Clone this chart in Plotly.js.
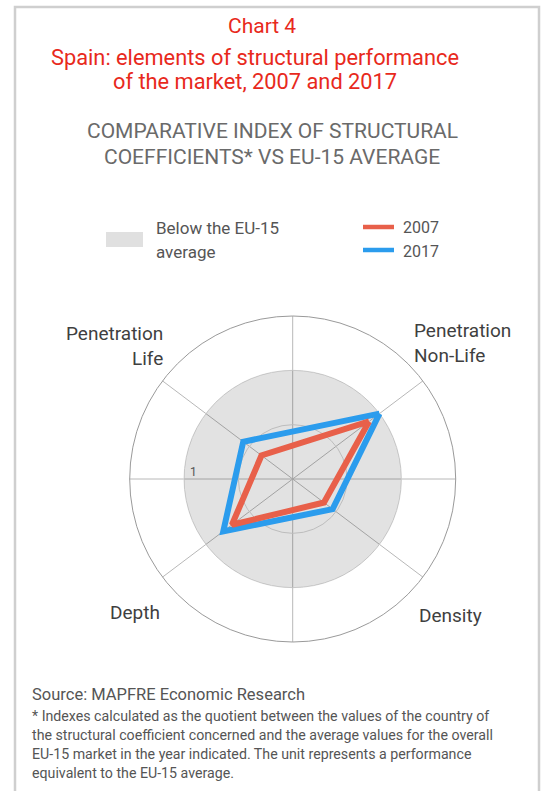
<!DOCTYPE html>
<html>
<head>
<meta charset="utf-8">
<script src="https://cdn.plot.ly/plotly-3.0.1.min.js"></script>
<style>
html,body{margin:0;padding:0;background:#fff;}
#chart{width:544px;height:791px;}
</style>
</head>
<body>
<div id="chart"></div>
<script>
// ---- data ----
const categories = ["Penetration Non-Life", "Penetration Life", "Depth", "Density"];
const values2007 = [0.88, 0.36, 0.70, 0.36];
const values2017 = [1.00, 0.57, 0.80, 0.46];
const euAverage = 1;
const radialTicks = [0.5, 1, 1.5];
const seriesNames = ["2007", "2017"];

// ---- layout helpers ----
const W = 544, H = 791;
const px = x => x / W;
const py = y => 1 - y / H;
const spokeAngles = [37, 143, 217, 323];
const gridAngles = [0, 37, 90, 143, 180, 217, 270, 323];
const FONT = "Roboto, 'DejaVu Sans', sans-serif";
const RED = "#e8604a", BLUE = "#2b9ced", TITLE_RED = "#e8291c";

const close = a => a.concat([a[0]]);

const circleTheta = [], circleR = [];
for (let t = 0; t <= 360; t += 2) { circleTheta.push(t); circleR.push(euAverage); }

const traces = [
  {type: "scatterpolar", r: circleR, theta: circleTheta, mode: "lines",
   fill: "toself", fillcolor: "rgba(0,0,0,0.115)", line: {width: 0, color: "rgba(0,0,0,0)"},
   hoverinfo: "skip", showlegend: false},
  {type: "scatterpolar", r: close(values2017), theta: close(spokeAngles), mode: "lines",
   name: seriesNames[1], line: {color: BLUE, width: 6}, showlegend: false},
  {type: "scatterpolar", r: close(values2007), theta: close(spokeAngles), mode: "lines",
   name: seriesNames[0], line: {color: RED, width: 6}, showlegend: false}
];

const cx = 292.7, cy = 479, R = 163;
const catLabels = ["Penetration<br>Non-Life", "Penetration<br>Life", categories[2], categories[3]];
const annotations = [
  {text: "Chart 4", x: px(262), y: py(26), font: {size: 21, color: TITLE_RED}},
  {text: "Spain: elements of structural performance", x: px(255), y: py(57), font: {size: 21.8, color: TITLE_RED}},
  {text: "of the market, 2007 and 2017", x: px(255), y: py(81), font: {size: 21.8, color: TITLE_RED}},
  {text: "COMPARATIVE INDEX OF STRUCTURAL", x: px(272), y: py(131), font: {size: 21, color: "#6a6a6a"}},
  {text: "COEFFICIENTS* VS EU-15 AVERAGE", x: px(272), y: py(157), font: {size: 21, color: "#6a6a6a"}},
  {text: "Below the EU-15", x: px(154), y: py(228), xanchor: "left", font: {size: 17, color: "#555"}},
  {text: "average", x: px(154), y: py(252), xanchor: "left", font: {size: 17, color: "#555"}},
  {text: seriesNames[0], x: px(401), y: py(228), xanchor: "left", font: {size: 16, color: "#555"}},
  {text: seriesNames[1], x: px(401), y: py(251), xanchor: "left", font: {size: 16, color: "#555"}},
  {text: catLabels[1], x: px(165), y: py(346), xanchor: "right", align: "right", font: {size: 19, color: "#3f3f3f"}},
  {text: catLabels[0], x: px(412), y: py(343), xanchor: "left", align: "left", font: {size: 19, color: "#3f3f3f"}},
  {text: catLabels[2], x: px(135), y: py(612), font: {size: 19, color: "#3f3f3f"}},
  {text: catLabels[3], x: px(450), y: py(615), font: {size: 19, color: "#3f3f3f"}},
  {text: "1", x: px(193), y: py(472), font: {size: 12, color: "#555"}},
  {text: "Source: MAPFRE Economic Research", x: px(30), y: py(694), xanchor: "left", font: {size: 16.5, color: "#555"}},
  {text: "* Indexes calculated as the quotient between the values of the country of", x: px(30), y: py(716), xanchor: "left", font: {size: 14.2, color: "#555"}},
  {text: "the structural coefficient concerned and the average values for the overall", x: px(30), y: py(735), xanchor: "left", font: {size: 14.2, color: "#555"}},
  {text: "EU-15 market in the year indicated. The unit represents a performance", x: px(30), y: py(754), xanchor: "left", font: {size: 14.2, color: "#555"}},
  {text: "equivalent to the EU-15 average.", x: px(30), y: py(773), xanchor: "left", font: {size: 14.2, color: "#555"}}
].map(a => Object.assign({xref: "paper", yref: "paper", showarrow: false, yanchor: "middle", xanchor: "center"}, a));

const shapes = [
  {type: "rect", xref: "paper", yref: "paper", x0: px(15), x1: px(539), y0: py(800), y1: py(7),
   line: {color: "#cfcfcf", width: 2.5}, fillcolor: "rgba(0,0,0,0)"},
  {type: "rect", xref: "paper", yref: "paper", x0: px(106), x1: px(143), y0: py(247), y1: py(232),
   line: {width: 0}, fillcolor: "#e0e0e0"},
  {type: "line", xref: "paper", yref: "paper", x0: px(363), x1: px(394), y0: py(227), y1: py(227),
   line: {color: RED, width: 4.5}},
  {type: "line", xref: "paper", yref: "paper", x0: px(363), x1: px(394), y0: py(250), y1: py(250),
   line: {color: BLUE, width: 4.5}}
];

const layout = {
  width: W, height: H,
  margin: {l: 0, r: 0, t: 0, b: 0},
  paper_bgcolor: "#fff",
  font: {family: FONT},
  showlegend: false,
  polar: {
    domain: {x: [px(cx - R), px(cx + R)], y: [py(cy + R), py(cy - R)]},
    bgcolor: "rgba(0,0,0,0)",
    angularaxis: {
      type: "linear", rotation: 0, direction: "counterclockwise",
      tickmode: "array", tickvals: gridAngles, showticklabels: false, ticks: "",
      gridcolor: "#b8b8b8", gridwidth: 1, linecolor: "#9a9a9a", linewidth: 1, showline: true
    },
    radialaxis: {
      range: [0, 1.5], tickmode: "array", tickvals: radialTicks,
      showticklabels: false, ticks: "", showline: false,
      gridcolor: "#d6d6d6", gridwidth: 1
    }
  },
  annotations: annotations,
  shapes: shapes
};

Plotly.newPlot("chart", traces, layout, {staticPlot: true, displayModeBar: false});
</script>
</body>
</html>
